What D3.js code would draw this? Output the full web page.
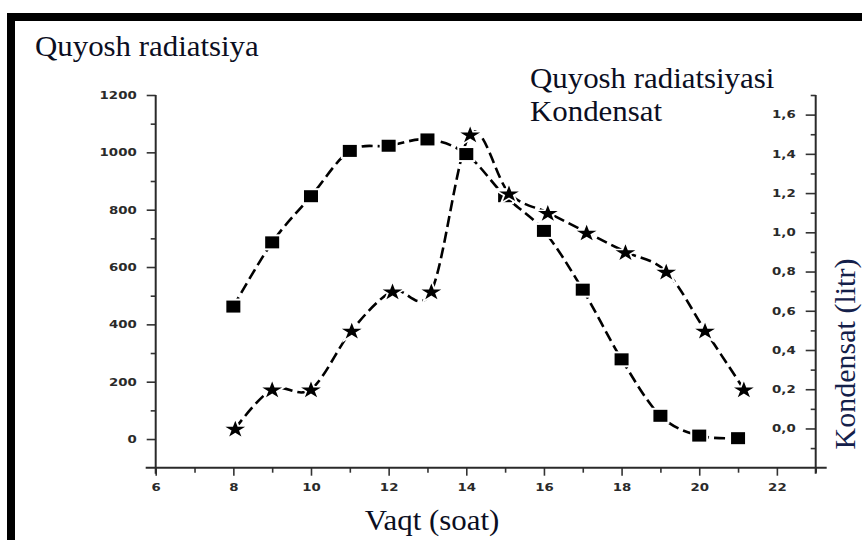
<!DOCTYPE html>
<html>
<head>
<meta charset="utf-8">
<script src="https://cdn.jsdelivr.net/npm/d3@7"></script>
<style>
  body { margin: 0; background: #fff; }
  svg { display: block; }
  .tick text { font-family: "DejaVu Sans", sans-serif; font-weight: bold; font-size: 10.5px; fill: #2a2a2a; }
  .big { font-family: "Liberation Serif", "Times New Roman", serif; font-size: 29px; fill: #0b0e22; }
</style>
</head>
<body>
<div id="chart"></div>
<script>
// donnees
var hours = [8, 9, 10, 11, 12, 13, 14, 15, 16, 17, 18, 19, 20, 21];
var radiation = [462, 686, 847, 1005, 1023, 1045, 994, 847, 726, 521, 278, 81, 12, 3];
var kondHours = [8.05, 9, 10, 11.05, 12.1, 13.1, 14.1, 15.1, 16.1, 17.1, 18.1, 19.15, 20.15, 21.15];
var kondensat = [0.0, 0.2, 0.2, 0.5, 0.7, 0.7, 1.5, 1.2, 1.1, 1.0, 0.9, 0.8, 0.5, 0.2];

var xTicks = [6, 8, 10, 12, 14, 16, 18, 20, 22];
var leftTicks = [0, 200, 400, 600, 800, 1000, 1200];
var rightTicks = [0, 0.2, 0.4, 0.6, 0.8, 1.0, 1.2, 1.4, 1.6];

var W = 862, H = 540;
var pL = 155.7, pR = 815.7, pT = 95, pB = 467.7;
var sx = 1.065; // l'image d'origine est un peu etiree horizontalement

var svg = d3.select("#chart").append("svg")
  .attr("width", W).attr("height", H);

// cadre noir
svg.append("rect").attr("x", 7).attr("y", 13).attr("width", W).attr("height", 8).attr("fill", "#000");
svg.append("rect").attr("x", 7).attr("y", 13).attr("width", 8).attr("height", H).attr("fill", "#000");

var x = d3.scaleLinear().domain([6, 23]).range([pL, pR]);
var yL = d3.scaleLinear().domain([-100, 1200]).range([pB, pT]);
var yR = d3.scaleLinear().domain([-0.2, 1.7]).range([pB, pT]);

var comma = function(d){ return d3.format(".1f")(d).replace(".", ","); };

function stretchLabels(g){
  g.selectAll(".tick text").each(function(){
    var t = d3.select(this);
    var len = this.getComputedTextLength();
    t.attr("textLength", len * 1.27).attr("lengthAdjust", "spacingAndGlyphs");
  });
}

function styleAxis(g){
  g.select(".domain").remove();
  g.selectAll(".tick line").attr("stroke", "#333").attr("stroke-width", 1.6);
}

// axe du bas
var gx = svg.append("g").attr("transform", "translate(0," + pB + ")")
  .call(d3.axisBottom(x).tickValues(xTicks).tickSize(8).tickPadding(8).tickFormat(d3.format("d")));
gx.call(styleAxis).call(stretchLabels);
svg.append("g").attr("transform", "translate(0," + pB + ")")
  .call(d3.axisBottom(x).tickValues(d3.range(7, 24, 2)).tickSize(5).tickFormat(""))
  .call(styleAxis);

// axe gauche
var gl = svg.append("g").attr("transform", "translate(" + pL + ",0)")
  .call(d3.axisLeft(yL).tickValues(leftTicks).tickSize(9).tickPadding(10).tickFormat(d3.format("d")));
gl.call(styleAxis).call(stretchLabels);
svg.append("g").attr("transform", "translate(" + pL + ",0)")
  .call(d3.axisLeft(yL).tickValues(d3.range(100, 1200, 200)).tickSize(5).tickFormat(""))
  .call(styleAxis);

// axe droit (graduations vers l'interieur)
var gr = svg.append("g").attr("transform", "translate(" + pR + ",0)")
  .call(d3.axisLeft(yR).tickValues(rightTicks).tickSize(10).tickPadding(10).tickFormat(comma));
gr.call(styleAxis).call(stretchLabels);
svg.append("g").attr("transform", "translate(" + pR + ",0)")
  .call(d3.axisLeft(yR).tickValues(d3.range(-0.1, 1.75, 0.2)).tickSize(5).tickFormat(""))
  .call(styleAxis);

// lignes des axes
var axisLines = [
  [pL, pT, pL, pB + 6],
  [pR, pT, pR, pB + 6],
  [pL - 10, pB, pR + 11, pB]
];
svg.selectAll("line.ax").data(axisLines).enter().append("line")
  .attr("class", "ax")
  .attr("x1", function(d){ return d[0]; }).attr("y1", function(d){ return d[1]; })
  .attr("x2", function(d){ return d[2]; }).attr("y2", function(d){ return d[3]; })
  .attr("stroke", "#2a2a2a").attr("stroke-width", 2);

// series
var radPts = hours.map(function(h, i){ return [x(h), yL(radiation[i])]; });
var kondPts = kondHours.map(function(h, i){ return [x(h), yR(kondensat[i])]; });

var line = d3.line().curve(d3.curveCatmullRom.alpha(0));

[radPts, kondPts].forEach(function(pts){
  svg.append("path").attr("d", line(pts))
    .attr("fill", "none").attr("stroke", "#000").attr("stroke-width", 2.6)
    .attr("stroke-dasharray", "11,5");
});

// marqueurs carres
svg.selectAll("rect.sq").data(radPts).enter().append("rect")
  .attr("class", "sq")
  .attr("x", function(d){ return d[0] - 7; }).attr("y", function(d){ return d[1] - 6; })
  .attr("width", 14).attr("height", 12)
  .attr("fill", "#000").attr("stroke", "#fff").attr("stroke-width", 4)
  .attr("paint-order", "stroke");

// marqueurs etoiles
var star = d3.symbol().type(d3.symbolStar).size(100);
svg.selectAll("path.st").data(kondPts).enter().append("path")
  .attr("class", "st")
  .attr("d", star)
  .attr("transform", function(d){ return "translate(" + d[0] + "," + (d[1] + 1) + ") scale(1.1,0.92)"; })
  .attr("fill", "#000").attr("stroke", "#fff").attr("stroke-width", 3.5)
  .attr("paint-order", "stroke");

// textes
function bigText(txt, tx, ty, anchor, rot, s){
  var g = svg.append("g").attr("transform", "translate(" + tx + "," + ty + ")" +
    (rot ? " rotate(-90) scale(1," + s + ")" : " scale(" + sx + ",1)"));
  return g.append("text").attr("class", "big").attr("text-anchor", anchor || "start").text(txt);
}
bigText("Quyosh radiatsiya", 35, 56);
bigText("Quyosh radiatsiyasi", 530, 88);
bigText("Kondensat", 530, 121);
bigText("Vaqt (soat)", 432, 530, "middle");
bigText("Kondensat (litr)", 855, 354, "middle", true, 1.0)
  .style("font-size", "30px").style("fill", "#14204a");
</script>
</body>
</html>
